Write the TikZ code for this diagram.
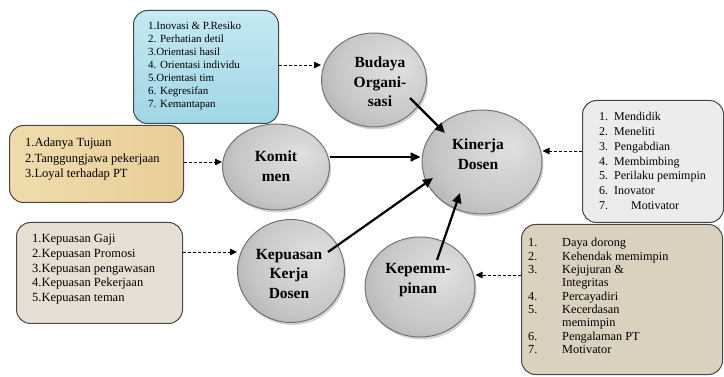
\documentclass[tikz,border=0pt]{standalone}
\usepackage{fontspec}
\setmainfont{Liberation Serif}
\usetikzlibrary{shapes.geometric,arrows.meta,shadows,calc}
\definecolor{waterblue}{RGB}{196,234,242}
\definecolor{waterblue2}{RGB}{160,214,229}
\definecolor{papyrus}{RGB}{240,220,172}
\definecolor{papyrus2}{RGB}{232,206,152}
\definecolor{sandbeige}{RGB}{230,224,212}
\definecolor{marblegray}{RGB}{236,236,236}
\definecolor{clothbeige}{RGB}{218,209,190}
\pgfdeclareradialshading{ballgray}{\pgfpoint{12bp}{8bp}}{color(0bp)=(black!12); color(25bp)=(black!22); color(45bp)=(black!38); color(60bp)=(black!46)}
\begin{document}
\begin{tikzpicture}[x=1pt,y=-1pt,
  listbox/.style={draw=black!72, line width=1pt, rounded corners=14pt, anchor=north west, inner sep=0pt},
  circ/.style={ellipse, draw=black!55, line width=1pt, shading=ballgray, inner sep=0pt,
    drop shadow={shadow xshift=1.5pt, shadow yshift=-2.5pt, opacity=0.35}},
  clabel/.style={font=\fontsize{15.5}{19.5}\selectfont\bfseries, align=center, inner sep=0pt},
  ltext/.style={anchor=base west, inner sep=0pt},
  solidarrow/.style={line width=2.2pt, -{Triangle[length=10pt,width=9pt]}},
  dasharrow/.style={line width=0.8pt, dash pattern=on 3pt off 2pt, -{Triangle[length=7pt,width=6.5pt]}}
]
\useasboundingbox (0,0) rectangle (724,377);

% list boxes
\node[listbox, minimum width=145pt, minimum height=113pt, top color=waterblue, bottom color=waterblue2] (boxbud) at (133,10) {};
\node[listbox, minimum width=174pt, minimum height=77pt, left color=papyrus, right color=papyrus2] (boxkom) at (9,125) {};
\node[listbox, minimum width=166pt, minimum height=101pt, fill=sandbeige] (boxkep) at (16,222) {};
\node[listbox, minimum width=141pt, minimum height=122pt, fill=marblegray] (boxkin) at (582,100) {};
\node[listbox, minimum width=201pt, minimum height=150pt, fill=clothbeige] (boxpem) at (521,224) {};

% list texts
\begin{scope}[font=\fontsize{11}{12.9}\selectfont]
\foreach \t [count=\i] in {{1.Inovasi \& P.Resiko},{2. Perhatian detil},{3.Orientasi hasil},{4. Orientasi individu},{5.Orientasi tim},{6. Kegresifan},{7. Kemantapan}}
  \node[ltext] (tbud\i) at (148,{30+(\i-1)*12.9}) {\t};
\end{scope}
\begin{scope}[font=\fontsize{12.5}{15}\selectfont]
\foreach \t [count=\i] in {{1.Adanya Tujuan},{2.Tanggungjawa pekerjaan},{3.Loyal terhadap PT}}
  \node[ltext] (tkom\i) at (25,{147+(\i-1)*15.5}) {\t};
\foreach \t [count=\i] in {{1.Kepuasan Gaji},{2.Kepuasan Promosi},{3.Kepuasan pengawasan},{4.Kepuasan Pekerjaan},{5.Kepuasan teman}}
  \node[ltext] (tkep\i) at (32,{243+(\i-1)*14.6}) {\t};
\end{scope}
\begin{scope}[font=\fontsize{12}{14}\selectfont]
\foreach \t [count=\i] in {Mendidik,Meneliti,Pengabdian,Membimbing,Perilaku pemimpin,Inovator}{
  \node[ltext] (nkin\i) at (599,{121+(\i-1)*14.7}) {\i.};
  \node[ltext] (tkin\i) at (614,{121+(\i-1)*14.7}) {\t};
}
\node[ltext] (nkin7) at (599,{121+6*14.7}) {7.};
\node[ltext] (tkin7) at (631,{121+6*14.7}) {Motivator};
\end{scope}
\begin{scope}[font=\fontsize{12.3}{13.3}\selectfont]
\foreach \n/\t [count=\i] in {1./Daya dorong,2./Kehendak memimpin,3./Kejujuran \&,/Integritas,4./Percayadiri,5./Kecerdasan,/memimpin,6./Pengalaman PT,7./Motivator}{
  \node[ltext] (npem\i) at (528,{247+(\i-1)*13.3}) {\n};
  \node[ltext] (tpem\i) at (562,{247+(\i-1)*13.3}) {\t};
}
\end{scope}

% circles
\node[circ, minimum width=105pt, minimum height=94pt] (bud) at (374,80) {};
\node[circ, minimum width=120pt, minimum height=104pt] (kin) at (482,162) {};
\node[circ, minimum width=107pt, minimum height=86pt] (kom) at (276,167) {};
\node[circ, minimum width=107pt, minimum height=103pt] (kep) at (291,271) {};
\node[circ, minimum width=110pt, minimum height=100pt] (pem) at (420,287) {};

\node[clabel] (lbud) at (380,82) {Budaya\\Organi-\\sasi};
\node[clabel] (lkin) at (478,154) {Kinerja\\Dosen};
\node[clabel] (lkom) at (276,166) {Komit\\men};
\node[clabel] (lkep) at (289,274) {Kepuasan\\Kerja\\Dosen};
\node[clabel] (lpem) at (418,280) {Kepemm-\\pinan};

% solid arrows
\draw[solidarrow] ($(bud.center)+(36,18)$) -- ($(kin.center)+(-37,-29)$);
\draw[solidarrow] ($(kom.east)+(0,-10)$) -- ($(kin.west)+(-1,-5)$);
\draw[solidarrow] ($(kep.center)+(37,-19)$) -- ($(kin.center)+(-49,16)$);
\draw[solidarrow] ($(pem.center)+(17,-27)$) -- ($(kin.center)+(-22,31)$);

% dashed arrows
\draw[dasharrow] (boxbud.east |- 0,65) -- (bud.west |- 0,65);
\draw[dasharrow] (boxkom.east |- 0,162) -- (kom.west |- 0,162);
\draw[dasharrow] (boxkep.east |- 0,252) -- (kep.west |- 0,252);
\draw[dasharrow] (boxkin.west |- 0,151) -- (kin.east |- 0,151);
\draw[dasharrow] (boxpem.west |- 0,275) -- (pem.east |- 0,275);
\end{tikzpicture}
\end{document}
